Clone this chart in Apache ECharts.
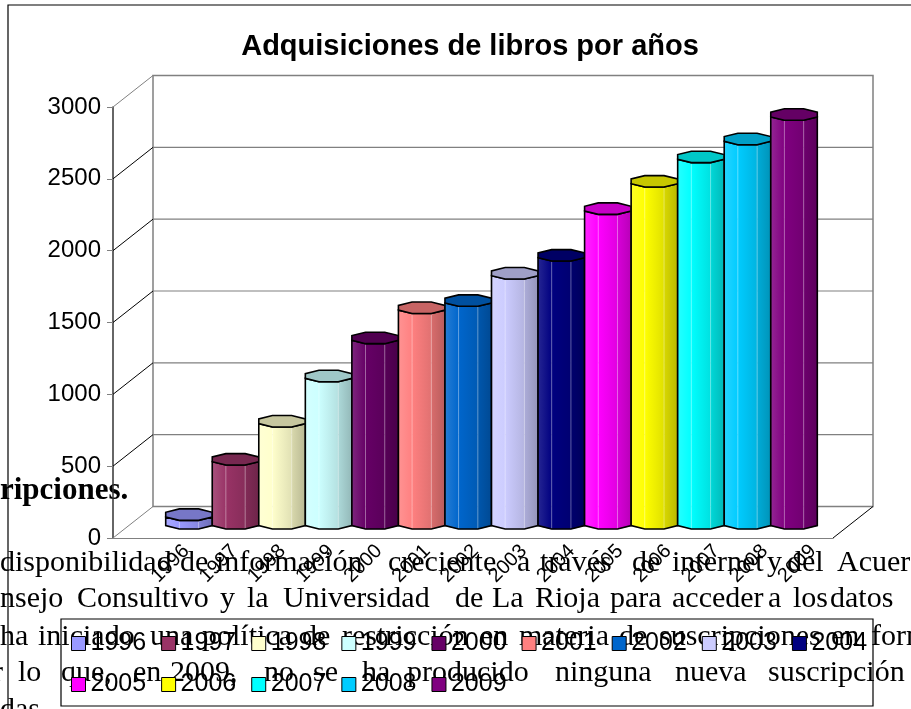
<!DOCTYPE html>
<html>
<head>
<meta charset="utf-8">
<script src="https://cdn.jsdelivr.net/npm/echarts@6/dist/echarts.min.js"></script>
<style>
html, body { margin: 0; padding: 0; background: #fff; }
#chart { width: 911px; height: 709px; }
</style>
</head>
<body>
<div id="chart"></div>
<script>
// datos del gráfico
var years = ['1996', '1997', '1998', '1999', '2000', '2001', '2002', '2003', '2004', '2005', '2006', '2007', '2008', '2009'];
var values = [60, 445, 710, 1025, 1290, 1500, 1550, 1740, 1865, 2190, 2380, 2550, 2675, 2845];
var colors = ['#9999FF', '#993366', '#FFFFCC', '#CCFFFF', '#660066', '#FF8080', '#0066CC',
              '#CCCCFF', '#000080', '#FF00FF', '#FFFF00', '#00FFFF', '#00CCFF', '#800080'];
var yTicks = [0, 500, 1000, 1500, 2000, 2500, 3000];
var titleText = 'Adquisiciones de libros por años';

// texto del documento que queda detrás del gráfico
var docHeading = 'ripciones.';
var docLines = [
    {y: 573, words: [['disponibilidad', 0], ['de', 180], ['información', 216], ['creciente', 388], ['a', 517], ['través', 540], ['de', 632], ['internet', 672], ['y', 767], ['del', 787], ['Acuerdo', 837]]},
    {y: 609, words: [['nsejo', 0], ['Consultivo', 77], ['y', 220], ['la', 247], ['Universidad', 283], ['de', 455], ['La', 492], ['Rioja', 535], ['para', 610], ['acceder', 672], ['a', 768], ['los', 793], ['datos', 830]]},
    {y: 647, words: [['ha', 0], ['iniciado', 38], ['una', 150], ['política', 202], ['de', 302], ['restricción', 342], ['en', 480], ['materia', 519], ['de', 619], ['suscripciones', 659], ['en', 831], ['forma', 871]]},
    {y: 683, words: [['r', -7], ['lo', 18], ['que,', 61], ['en', 133], ['2009,', 170], ['no', 264], ['se', 313], ['ha', 362], ['producido', 407], ['ninguna', 555], ['nueva', 675], ['suscripción', 768]]},
    {y: 720, words: [['das', 0]]}
];

var DX = 40, DY = -31.5;

function hexRgb(h) {
    h = h.replace('#', '');
    return [parseInt(h.substr(0, 2), 16), parseInt(h.substr(2, 2), 16), parseInt(h.substr(4, 2), 16)];
}
function shade(h, f) {
    return 'rgb(' + hexRgb(h).map(function (v) { return Math.round(v * f); }).join(',') + ')';
}
function tint(h, f) {
    return 'rgb(' + hexRgb(h).map(function (v) { return Math.round(v + (255 - v) * f); }).join(',') + ')';
}
function octagon(cx, cy, rx, ry) {
    var pts = [];
    for (var k = 0; k < 8; k++) {
        var a = (22.5 + 45 * k) * Math.PI / 180;
        pts.push([cx + rx * Math.cos(a), cy + ry * Math.sin(a)]);
    }
    return pts;
}
function grad(a, b) {
    return new echarts.graphic.LinearGradient(0, 0, 1, 0, [{offset: 0, color: a}, {offset: 1, color: b}]);
}

// columna octogonal "3D"
function renderBar(params, api) {
    var c = api.visual('color');
    var top = api.coord([api.value(0), api.value(1)]);
    var bot = api.coord([api.value(0), 0]);
    var bw = api.size([1, 0])[0];
    var rx = bw / 2 / 0.924, ry = 6.2;
    var t = octagon(top[0], top[1] - 0.924 * ry, rx, ry);
    var b = octagon(bot[0], bot[1] - 0.924 * ry, rx, ry);
    function facet(i, j, fill) {
        return {type: 'polygon', shape: {points: [t[i], t[j], b[j], b[i]]}, style: {fill: fill, stroke: fill, lineWidth: 0.5}};
    }
    function hl(k) {
        return {type: 'line', shape: {x1: t[k][0], y1: t[k][1], x2: b[k][0], y2: b[k][1]},
                style: {stroke: 'rgba(255,255,255,0.35)', lineWidth: 1}};
    }
    return {
        type: 'group',
        children: [
            facet(3, 2, grad(tint(c, 0.15), c)),
            facet(2, 1, grad(c, shade(c, 0.88))),
            facet(1, 0, grad(shade(c, 0.85), shade(c, 0.72))),
            hl(2), hl(1),
            {type: 'polygon', shape: {points: [t[3], t[2], t[1], t[0], b[0], b[1], b[2], b[3]]},
             style: {fill: null, stroke: '#000', lineWidth: 1.6}},
            {type: 'polygon', shape: {points: t}, style: {fill: shade(c, 0.78), stroke: '#000', lineWidth: 1.6}}
        ]
    };
}

// paredes y suelo de la caja 3D
function renderFrame(params, api) {
    var v = api.value(0);
    var p0 = api.coord([0, v]), p1 = api.coord([1, v]);
    var edge = (v === yTicks[0] || v === yTicks[yTicks.length - 1]);
    var ch = [];
    ch.push({type: 'line', shape: {x1: p0[0], y1: p0[1], x2: p0[0] + DX, y2: p0[1] + DY},
             style: {stroke: edge ? '#808080' : '#000', lineWidth: 1}});
    if (!edge) {
        ch.push({type: 'line', shape: {x1: p0[0] + DX, y1: p0[1] + DY, x2: p1[0] + DX, y2: p1[1] + DY},
                 style: {stroke: '#808080', lineWidth: 1.2}});
    }
    if (v === yTicks[0]) {
        var q = api.coord([1, yTicks[yTicks.length - 1]]);
        ch.push({type: 'rect', shape: {x: p0[0] + DX, y: q[1] + DY, width: p1[0] - p0[0], height: p0[1] - q[1]},
                 style: {fill: null, stroke: '#808080', lineWidth: 1.5}});
        ch.push({type: 'line', shape: {x1: p1[0], y1: p1[1], x2: p1[0] + DX, y2: p1[1] + DY},
                 style: {stroke: '#000', lineWidth: 1}});
    }
    return {type: 'group', children: ch};
}

var graphics = [
    {type: 'rect', shape: {x: 8, y: 5, width: 1000, height: 1000}, style: {fill: null, stroke: '#000', lineWidth: 1.2}, z: 0},
    {type: 'rect', shape: {x: 61, y: 619, width: 812, height: 87}, style: {fill: null, stroke: '#000', lineWidth: 1.2}, z: 0},
    {type: 'text', x: 470, y: 47, style: {text: titleText, font: 'bold 29px "Liberation Sans", Arial', fill: '#000',
        textAlign: 'center', textVerticalAlign: 'middle'}, z: 10},
    {type: 'text', x: 0, y: 491, style: {text: docHeading, font: 'bold 31px "Liberation Serif", serif', fill: '#000',
        textAlign: 'left', textVerticalAlign: 'middle'}, z: 0}
];
docLines.forEach(function (ln) {
    ln.words.forEach(function (w) {
        graphics.push({type: 'text', x: w[1], y: ln.y - 10, style: {text: w[0], font: '30px "Liberation Serif", serif',
            fill: '#000', textAlign: 'left', textVerticalAlign: 'middle'}, z: 0});
    });
});

var series = [{
    type: 'custom',
    xAxisIndex: 0, yAxisIndex: 0,
    silent: true,
    data: yTicks.map(function (v) { return [v]; }),
    renderItem: renderFrame,
    z: 1
}];
years.forEach(function (y, i) {
    series.push({
        type: 'custom',
        name: y,
        xAxisIndex: 1, yAxisIndex: 1,
        itemStyle: {color: colors[i]},
        data: [[i, values[i]]],
        encode: {x: 0, y: 1},
        renderItem: renderBar,
        z: 5
    });
});

var legendText = {fontSize: 25, fontFamily: 'Liberation Sans', color: '#000'};

var chart = echarts.init(document.getElementById('chart'));
chart.setOption({
    animation: false,
    graphic: graphics,
    legend: [
        {data: years.slice(0, 9), left: 71, top: 631, padding: 0, itemGap: 15, itemWidth: 14, itemHeight: 14,
         icon: 'rect', itemStyle: {borderColor: '#000', borderWidth: 1}, textStyle: legendText, selectedMode: false},
        {data: years.slice(9), left: 71, top: 672, padding: 0, itemGap: 15, itemWidth: 14, itemHeight: 14,
         icon: 'rect', itemStyle: {borderColor: '#000', borderWidth: 1}, textStyle: legendText, selectedMode: false}
    ],
    grid: [
        {left: 113, top: 107, width: 720, height: 431},    // plano frontal
        {left: 165.7, top: 98, width: 651.6, height: 431}, // plano de las columnas
        {left: 162, top: 107, width: 675, height: 431}     // etiquetas de categoría
    ],
    xAxis: [
        {gridIndex: 0, type: 'value', min: 0, max: 1, axisLine: {show: true, lineStyle: {color: '#808080', width: 1.2}},
         axisTick: {show: false}, axisLabel: {show: false}, splitLine: {show: false}},
        {gridIndex: 1, type: 'category', data: years, show: false},
        {gridIndex: 2, type: 'category', data: years, axisLine: {show: false}, axisTick: {show: false},
         axisLabel: {interval: 0, rotate: 45, fontSize: 20, fontFamily: 'Liberation Sans', color: '#000', margin: 10}}
    ],
    yAxis: [
        {gridIndex: 0, type: 'value', min: 0, max: 3000, interval: 500,
         axisLine: {show: true, lineStyle: {color: '#333', width: 1.5}},
         axisTick: {show: true, length: 6, lineStyle: {color: '#808080'}},
         axisLabel: {fontSize: 24, fontFamily: 'Liberation Sans', color: '#000', margin: 12,
                     formatter: function (v) { return String(v); }},
         splitLine: {show: false}},
        {gridIndex: 1, type: 'value', min: 0, max: 3000, show: false},
        {gridIndex: 2, type: 'value', min: 0, max: 3000, show: false}
    ],
    series: series
});
</script>
</body>
</html>
